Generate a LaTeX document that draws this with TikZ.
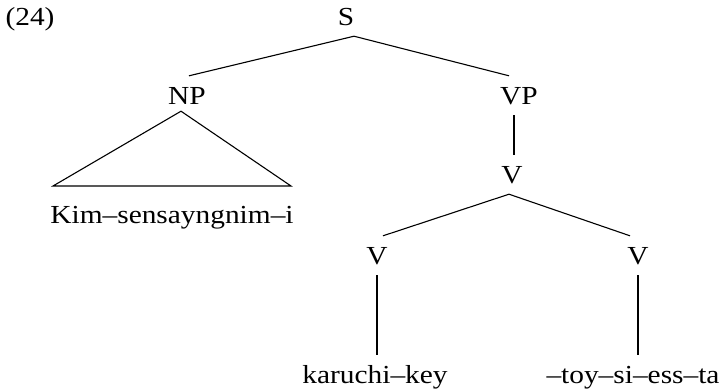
\documentclass[tikz,border=0pt]{standalone}
\usepackage{fontspec}
\setmainfont{Liberation Serif}[FakeStretch=1.13]
\usetikzlibrary{calc}
\begin{document}
\begin{tikzpicture}[x=1pt,y=-1pt,
  every node/.style={font=\fontsize{26}{31}\selectfont, anchor=base,
    inner xsep=2pt, inner ysep=11pt, text height=17pt, text depth=0pt},
  branch/.style={line width=1.1pt, black}]
  \useasboundingbox (0,0) rectangle (727,389);

  % example number
  \node (num) at (30,25) {(24)};

  % category labels
  \node (S)   at (346,25)  {S};
  \node (NP)  at (187,104) {NP};
  \node (VP)  at (519,104) {VP};
  \node (V)   at (512,183) {V};
  \node (Vl)  at (377,264) {V};
  \node (Vr)  at (638,264) {V};

  % terminal strings
  \node (kim) at (172,223) {Kim–sensayngnim–i};
  \node (kar) at (375,383) {karuchi–key};
  \node (toy) at (633,383) {–toy–si–ess–ta};

  % roof over the subject NP
  \coordinate (rl) at (53,186);
  \coordinate (rr) at (291,186);

  % attachment points of the branches
  \coordinate (st)  at ($(S.south)+(8,0)$);
  \coordinate (npt) at ($(NP.north)+(2,0)$);
  \coordinate (npb) at ($(NP.south)+(-6,-4)$);
  \coordinate (vb)  at ($(V.south)+(-3,0)$);

  % branches
  \draw[branch] (npt) -- (st);
  \draw[branch] (st) -- ($(VP.north)+(-10,0)$);
  \draw[branch] (rl) -- (npb) -- (rr) -- cycle;
  \draw[branch] ($(VP.south)+(-5,0)$) -- ($(V.north)+(2,0)$);
  \draw[branch] (vb) -- ($(Vl.north)+(6,0)$);
  \draw[branch] (vb) -- ($(Vr.north)+(-8,0)$);
  \draw[branch] (Vl.south) -- (kar.north -| Vl.south);
  \draw[branch] (Vr.south) -- (toy.north -| Vr.south);
\end{tikzpicture}
\end{document}
